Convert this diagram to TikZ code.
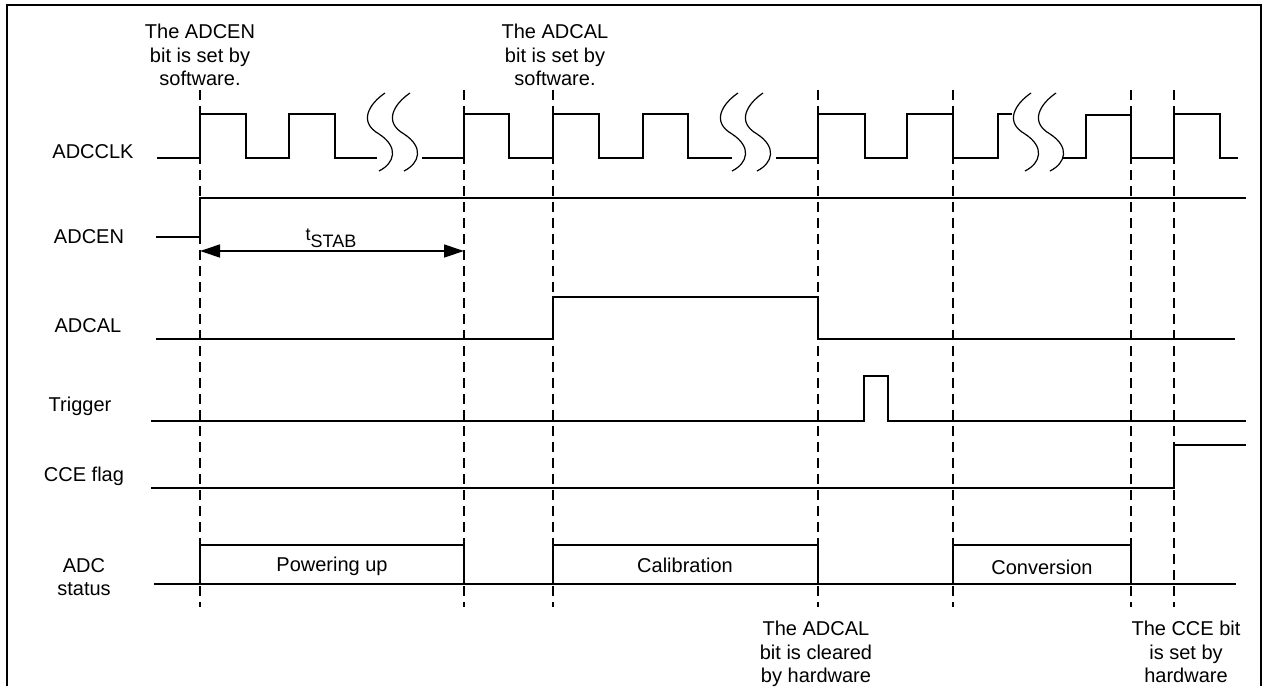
\documentclass[tikz,border=0pt]{standalone}
\usepackage{fontspec}
\setmainfont{Liberation Sans}
\usetikzlibrary{arrows.meta}

\begin{document}
\begin{tikzpicture}[x=1pt, y=-1pt, line width=1.3pt, line join=miter,
    sig/.style={line width=1.3pt},
    guide/.style={line width=1.2pt, dash pattern=on 10pt off 6pt},
    lbl/.style={anchor=base, inner sep=0pt, font=\fontsize{20}{23.5}\selectfont},
    note/.style={anchor=north, inner sep=0pt, align=center, font=\fontsize{20}{23.5}\selectfont},
    span/.style={sig, >={Triangle[length=20pt, width=13pt]}, <->}]

  % ── frame (open at the bottom) ──
  \draw[line width=2.6pt] (7,686) -- (7,5) -- (1261,5) -- (1261,686);

  % ── dashed event lines ──
  \foreach \x/\name in {200/ena, 464/rdy, 553/cal, 818/clr, 953/conv, 1131/eoc, 1174/cce}
    \draw[guide] (\x,90) coordinate (\name) -- (\x,607);

  % ── ADCCLK (three breaks) ──
  \draw[sig] (157,158) -- (200,158) -- (200,114) -- (246,114) -- (246,158) -- (289,158)
    -- (289,114) -- (335,114) -- (335,158) -- (377,158);
  \draw[sig] (422,158) -- (464,158) -- (464,114) -- (509,114) -- (509,158) -- (553,158)
    -- (553,114) -- (599,114) -- (599,158) -- (643,158) -- (643,114) -- (688,114)
    -- (688,158) -- (732,158);
  \draw[sig] (776,158) -- (818,158) -- (818,114) -- (865,114) -- (865,158) -- (907,158)
    -- (907,114) -- (953,114) -- (953,158) -- (998,158) -- (998,114) -- (1012,114);
  \draw[sig] (1063,158) -- (1086,158) -- (1086,115) -- (1131,115) -- (1131,158)
    -- (1174,158) -- (1174,114) -- (1220,114) -- (1220,158) -- (1238,158);

  % break marks: two S curves per break
  \foreach \a in {366, 719, 1012}
    \foreach \d in {0, 25}
      \draw[line width=1.2pt] (\a+\d+19,93) .. controls (\a+\d+3,104) and (\a+\d-8,122) .. (\a+\d+13,134)
        .. controls (\a+\d+33,147) and (\a+\d+29,163) .. (\a+\d+13,171);

  % ── ADCEN + tSTAB ──
  \draw[sig] (156,237) -- (200,237) -- (200,198) -- (1246,198);
  \coordinate (stabL) at (200,251);
  \coordinate (stabR) at (464,251);
  \draw[span] (stabL) -- (stabR);
  \node[lbl, font=\fontsize{18}{20}\selectfont] (tstab) at (331,247) {\raisebox{7pt}{t}STAB};

  % ── ADCAL, Trigger, CCE flag ──
  \draw[sig] (156,339) -- (553,339) -- (553,297) -- (818,297) -- (818,339) -- (1235,339);
  \draw[sig] (151,421) -- (864,421) -- (864,376) -- (888,376) -- (888,421) -- (1246,421);
  \draw[sig] (151,488) -- (1174,488) -- (1174,445) -- (1246,445);

  % ── ADC status ──
  \draw[sig] (154,584) -- (1236,584);
  \foreach \l/\r in {200/464, 553/818, 953/1131}
    \draw[sig] (\l,584) -- (\l,545) -- (\r,545) -- (\r,584);
  \node[lbl] (pwr) at (332,571) {Powering up};
  \node[lbl] (calib) at (685,572) {Calibration};
  \node[lbl] (convert) at (1042,574) {Conversion};

  % ── signal names ──
  \node[lbl] (clk) at (93,158) {ADCCLK};
  \node[lbl] (en) at (89,243) {ADCEN};
  \node[lbl] (al) at (88,332) {ADCAL};
  \node[lbl] (trg) at (80,411) {Trigger};
  \node[lbl] (flag) at (84,481) {CCE flag};
  \node[note] (status) at (84,557.6) {ADC\\status};

  % ── event notes ──
  \node[note] (ntop1) at (200,23.6) {The ADCEN\\bit is set by\\software.};
  \node[note] (ntop2) at (555,23.6) {The ADCAL\\bit is set by\\software.};
  \node[note] (nbot1) at (816,620.6) {The ADCAL\\bit is cleared\\by hardware};
  \node[note] (nbot2) at (1186,620.6) {The CCE bit\\is set by\\hardware};

  \path[use as bounding box] (0,0) rectangle (1268,686);
\end{tikzpicture}
\end{document}
